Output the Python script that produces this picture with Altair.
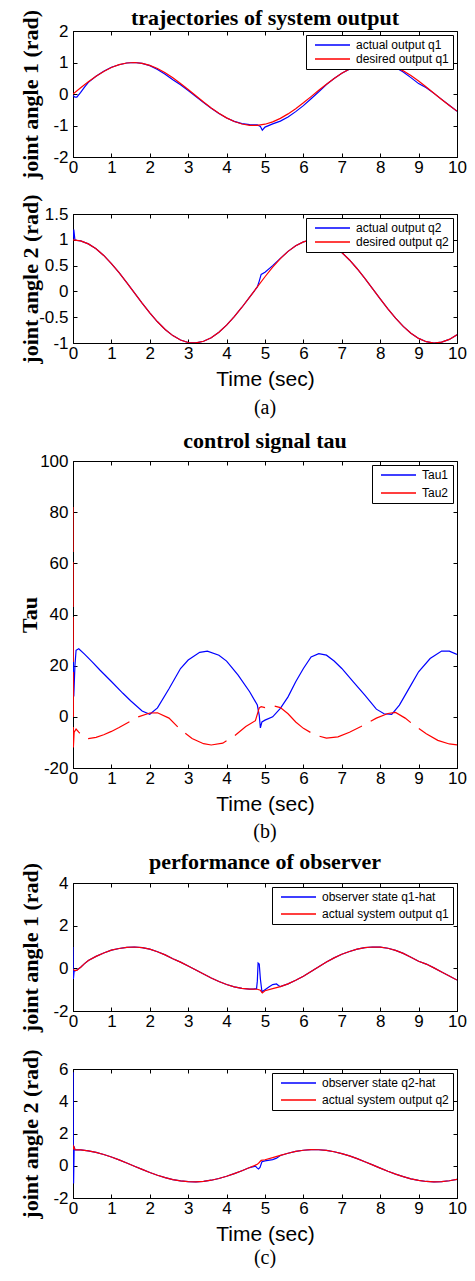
import altair as alt
import pandas as pd

# ---------------- data ----------------
t_grid = [0.0, 0.2, 0.4, 0.6, 0.8, 1.0, 1.2, 1.4, 1.6, 1.8, 2.0, 2.2, 2.4, 2.6, 2.8,
          3.0, 3.2, 3.4, 3.6, 3.8, 4.0, 4.2, 4.4, 4.6, 4.8, 5.0, 5.2, 5.4, 5.6, 5.8,
          6.0, 6.2, 6.4, 6.6, 6.8, 7.0, 7.2, 7.4, 7.6, 7.8, 8.0, 8.2, 8.4, 8.6, 8.8,
          9.0, 9.2, 9.4, 9.6, 9.8, 10.0]

q1_desired = [0.0, 0.199, 0.389, 0.565, 0.717, 0.841, 0.932, 0.985, 1.0, 0.974, 0.909,
              0.808, 0.675, 0.516, 0.335, 0.141, -0.058, -0.256, -0.443, -0.612, -0.757,
              -0.872, -0.952, -0.994, -0.996, -0.959, -0.883, -0.773, -0.631, -0.465,
              -0.279, -0.083, 0.117, 0.312, 0.494, 0.657, 0.794, 0.899, 0.968, 0.999,
              0.989, 0.941, 0.855, 0.735, 0.585, 0.412, 0.223, 0.025, -0.174, -0.366, -0.544]

q2_desired = [1.0, 0.98, 0.921, 0.825, 0.697, 0.54, 0.362, 0.17, -0.029, -0.227, -0.416,
              -0.589, -0.737, -0.857, -0.942, -0.99, -0.998, -0.967, -0.897, -0.791,
              -0.654, -0.49, -0.307, -0.112, 0.087, 0.284, 0.469, 0.635, 0.776, 0.886,
              0.96, 0.997, 0.993, 0.951, 0.869, 0.754, 0.609, 0.439, 0.252, 0.054,
              -0.146, -0.339, -0.519, -0.677, -0.811, -0.911, -0.975, -1.0, -0.984, -0.93, -0.839]

q1_actual_t = [0.0, 0.05, 0.1, 0.2, 0.3, 0.4, 0.6, 0.8, 1.0, 1.2, 1.4, 1.6, 1.8, 2.0, 2.2,
               2.4, 2.6, 2.8, 3.0, 3.2, 3.4, 3.6, 3.8, 4.0, 4.2, 4.4, 4.6, 4.8, 4.88, 4.93,
               5.0, 5.2, 5.4, 5.6, 5.8, 6.0, 6.2, 6.4, 6.6, 6.8, 7.0, 7.2, 7.4, 7.6, 7.8,
               8.0, 8.2, 8.4, 8.6, 8.8, 9.0, 9.2, 9.4, 9.6, 9.8, 10.0]
q1_actual = [-0.05, -0.1, -0.1, 0.05, 0.22, 0.37, 0.56, 0.72, 0.85, 0.93, 0.985, 1.0, 0.97,
             0.9, 0.78, 0.63, 0.45, 0.29, 0.11, -0.08, -0.27, -0.45, -0.62, -0.76, -0.87,
             -0.94, -0.97, -0.98, -1.03, -1.15, -1.05, -0.95, -0.86, -0.73, -0.56, -0.37,
             -0.15, 0.07, 0.3, 0.49, 0.66, 0.79, 0.9, 0.97, 1.0, 0.99, 0.94, 0.84, 0.7,
             0.52, 0.33, 0.2, 0.02, -0.17, -0.36, -0.55]

q2_actual_t = [0.0, 0.02, 0.05, 0.1, 0.2, 0.4, 0.6, 0.8, 1.0, 1.2, 1.4, 1.6, 1.8, 2.0, 2.2,
               2.4, 2.6, 2.8, 3.0, 3.2, 3.4, 3.6, 3.8, 4.0, 4.2, 4.4, 4.6, 4.8, 4.85, 4.9,
               5.0, 5.2, 5.4, 5.6, 5.8, 6.0, 6.2, 6.4, 6.6, 6.8, 7.0, 7.2, 7.4, 7.6, 7.8,
               8.0, 8.2, 8.4, 8.6, 8.8, 9.0, 9.2, 9.4, 9.6, 9.8, 10.0]
q2_actual = [1.0, 1.2, 1.0, 0.99, 0.98, 0.921, 0.825, 0.697, 0.54, 0.362, 0.17, -0.029,
             -0.227, -0.416, -0.589, -0.737, -0.857, -0.942, -0.99, -0.998, -0.967, -0.897,
             -0.791, -0.654, -0.49, -0.307, -0.112, 0.087, 0.2, 0.33, 0.37, 0.5, 0.64,
             0.776, 0.886, 0.96, 0.997, 0.993, 0.951, 0.869, 0.754, 0.609, 0.439, 0.252,
             0.054, -0.146, -0.339, -0.519, -0.677, -0.811, -0.911, -0.975, -1.0, -0.984,
             -0.93, -0.839]

tau1_t = [0.0, 0.02, 0.05, 0.08, 0.15, 0.3, 0.5, 0.7, 1.0, 1.3, 1.5, 1.8, 2.0, 2.2, 2.5,
          2.8, 3.0, 3.3, 3.5, 3.8, 4.0, 4.3, 4.6, 4.8, 4.85, 4.88, 4.92, 5.0, 5.2, 5.4,
          5.6, 5.8, 6.0, 6.2, 6.4, 6.6, 6.8, 7.0, 7.3, 7.6, 7.9, 8.1, 8.3, 8.5, 8.8, 9.0,
          9.3, 9.6, 9.8, 10.0]
tau1 = [30, 8, 20, 26, 26.6, 24.5, 21.5, 18.3, 13.8, 9.2, 6.3, 2.3, 1.0, 3.5, 11, 18.9,
        22.2, 25.2, 25.7, 24.1, 21.8, 16.3, 9.8, 4.6, 0.6, -4.3, -2, -1.3, 0, 3.3, 7.8,
        13.7, 18.9, 23.4, 24.7, 24.1, 21.8, 18.9, 13.7, 8.5, 3, 1.2, 1, 4.6, 12.4, 17.6,
        22.8, 25.7, 25.7, 24.4]

tau2_t = [0.0, 0.01, 0.03, 0.08, 0.15, 0.25, 0.4, 0.6, 0.8, 1.0, 1.2, 1.4, 1.7, 2.0, 2.2,
          2.5, 2.8, 3.1, 3.4, 3.6, 3.9, 4.2, 4.5, 4.75, 4.85, 4.9, 5.0, 5.2, 5.4, 5.6,
          5.8, 6.0, 6.3, 6.6, 6.9, 7.2, 7.5, 7.9, 8.2, 8.4, 8.65, 8.9, 9.2, 9.5, 9.8, 10.0]
tau2 = [82, -12, -6, -4.8, -6, -7.5, -8.5, -8, -7, -5.7, -4.2, -2.5, 0, 1.5, 1.6, -0.5,
        -5, -8.5, -10.5, -11, -10.3, -7.5, -3.8, -1.5, 3.5, 4, 3.6, 4.4, 3.6, 1.2, -2,
        -4.5, -7.1, -8.3, -7.8, -6, -3.8, -0.5, 1.3, 1.7, -0.5, -3.5, -6.6, -9.2, -10.6, -11]

# observer q1-hat: start transient, the glitch near 4.8 s, otherwise on the actual q1
q1hat_head_t = [0.0, 0.01, 0.03, 0.06, 0.1, 0.2]
q1hat_head = [1.0, -0.5, -0.1, -0.12, -0.08, 0.05]
q1hat_mid_t = [4.7, 4.78, 4.8, 4.82, 4.85, 4.88, 4.92, 5.0, 5.1, 5.2, 5.3, 5.35]
q1hat_mid = [-0.97, -0.95, -0.6, 0.25, 0.2, -0.5, -1.1, -1.0, -0.88, -0.76, -0.73, -0.8]

q2hat_head_t = [0.0, 0.004, 0.008, 0.015, 0.03, 0.05]
q2hat_head = [1.0, 5.8, 1.6, -1.1, 1.2, 1.0]
q2hat_mid_t = [4.75, 4.8, 4.83, 4.87, 4.92, 5.0, 5.2, 5.3]
q2hat_mid = [-0.02, -0.15, -0.2, -0.1, 0.25, 0.3, 0.38, 0.47]

x_ticks = [0, 1, 2, 3, 4, 5, 6, 7, 8, 9, 10]
BLUE = "#0000FF"
RED = "#FF0000"
W = 384
SERIF = "Liberation Serif"
SANS = "Liberation Sans"


def compose(head_t, head_v, mid_t, mid_v, base_t, base_v):
    t_out, v_out = list(head_t), list(head_v)
    for a, b in zip(base_t, base_v):
        if head_t[-1] < a < mid_t[0]:
            t_out.append(a); v_out.append(b)
    t_out += mid_t; v_out += mid_v
    for a, b in zip(base_t, base_v):
        if a > mid_t[-1]:
            t_out.append(a); v_out.append(b)
    return t_out, v_out


q1hat_t, q1hat = compose(q1hat_head_t, q1hat_head, q1hat_mid_t, q1hat_mid, q1_actual_t, q1_actual)
q2hat_t, q2hat = compose(q2hat_head_t, q2hat_head, q2hat_mid_t, q2hat_mid, q2_actual_t, q2_actual)


def panel(series, H, ydomain, yticks, ytitle, xtitle="", row_pad=2, ytitle_x=-36):
    names = [s[0] for s in series]
    colors = [s[3] for s in series]
    xaxis = alt.Axis(values=x_ticks, labelFlush=False, labelOverlap=False,
                     labelFont=SANS, labelFontSize=17, labelColor="black",
                     labelPadding=2, labelExpr="datum.value + ''", ticks=False,
                     grid=True, gridColor="black", gridOpacity=1, gridWidth=1,
                     gridDash=[4, H - 8, 4, 3000], domainColor="black",
                     title=xtitle, titleFont=SANS, titleFontSize=21,
                     titleFontWeight="normal", titleColor="black", titleX=W / 2,
                     titleY=42, titleBaseline="alphabetic", titleAlign="center")
    yaxis = alt.Axis(values=yticks, labelFont=SANS, labelFontSize=17,
                     labelColor="black", labelPadding=5, labelExpr="datum.value + ''",
                     ticks=False, grid=True, gridColor="black", gridOpacity=1, gridWidth=1,
                     gridDash=[4, W - 8, 4, 3000], domainColor="black",
                     title=ytitle, titleFont=SERIF, titleFontWeight="bold",
                     titleFontSize=22, titleColor="black", titleX=ytitle_x, titleY=H / 2,
                     titleAngle=270, titleAlign="center", titleBaseline="alphabetic")
    legend = alt.Legend(title=None, orient="top-right", offset=4, strokeColor="black",
                        fillColor="white", padding=4, labelFont=SANS,
                        labelFontSize=12, labelColor="black", symbolType="stroke",
                        symbolSize=1225, symbolStrokeWidth=1.3, rowPadding=row_pad,
                        clipHeight=12, symbolOffset=4, labelOffset=5, symbolDash=[1, 0])
    layers = []
    for name, tt, vv, color, dash in series:
        df = pd.DataFrame({"t": tt, "v": vv, "s": name})
        mk = dict(strokeWidth=1.2, clip=True)
        if dash:
            mk["strokeDash"] = dash
        layers.append(
            alt.Chart(df).mark_line(**mk).encode(
                x=alt.X("t:Q", scale=alt.Scale(domain=[0, 10], nice=False, zero=False), axis=xaxis),
                y=alt.Y("v:Q", scale=alt.Scale(domain=ydomain, nice=False, zero=False), axis=yaxis),
                color=alt.Color("s:N", scale=alt.Scale(domain=names, range=colors), legend=legend),
                order=alt.Order("t:Q"),
            )
        )
    return alt.layer(*layers).properties(width=W, height=H)


def title_text(s, y):
    return (s, y, SERIF, 22, "bold", "alphabetic")


def caption_text(s, y):
    return (s, y, SERIF, 20, "normal", "middle")


def spacer(h, texts=()):
    layers = []
    for s, y, font, size, weight, base in (texts or [("", h / 2, SANS, 10, "normal", "middle")]):
        layers.append(
            alt.Chart(pd.DataFrame({"c": [s]})).mark_text(
                font=font, fontSize=size, fontWeight=weight, baseline=base,
                align="center", color="black"
            ).encode(text="c:N", x=alt.value(W / 2), y=alt.value(y))
        )
    return alt.layer(*layers).properties(width=W, height=h,
                                         view=alt.ViewBackground(strokeOpacity=0))


p1 = panel([("actual output q1", q1_actual_t, q1_actual, BLUE, None),
            ("desired output q1", t_grid, q1_desired, RED, None)],
           126, [-2, 2], [-2, -1, 0, 1, 2], "joint angle 1 (rad)")
p2 = panel([("actual output q2", q2_actual_t, q2_actual, BLUE, None),
            ("desired output q2", t_grid, q2_desired, RED, None)],
           129, [-1, 1.5], [-1, -0.5, 0, 0.5, 1, 1.5], "joint angle 2 (rad)", xtitle="Time (sec)")
p3 = panel([("Tau1", tau1_t, tau1, BLUE, None),
            ("Tau2", tau2_t, tau2, RED, [45, 10])],
           307, [-20, 100], [-20, 0, 20, 40, 60, 80, 100], "Tau", xtitle="Time (sec)",
           row_pad=6, ytitle_x=-37)
p4 = panel([("observer state q1-hat", q1hat_t, q1hat, BLUE, None),
            ("actual system output q1", q1_actual_t, q1_actual, RED, None)],
           128, [-2, 4], [-2, 0, 2, 4], "joint angle 1 (rad)", row_pad=5)
p5 = panel([("observer state q2-hat", q2hat_t, q2hat, BLUE, None),
            ("actual system output q2", q2_actual_t, q2_actual, RED, None)],
           129, [-2, 6], [-2, 0, 2, 4, 6], "joint angle 2 (rad)", xtitle="Time (sec)", row_pad=5)

chart = alt.vconcat(
    spacer(25, [title_text("trajectories of system output", 19)]),
    p1,
    spacer(57),
    p2,
    spacer(118, [caption_text("(a)", 65), title_text("control signal tau", 105)]),
    p3,
    spacer(115, [caption_text("(b)", 64), title_text("performance of observer", 101)]),
    p4,
    spacer(58),
    p5,
    spacer(70, [caption_text("(c)", 60)]),
    spacing=0, bounds="flush",
).resolve_scale(color="independent").properties(
    padding={"left": 9, "top": -2, "right": 0, "bottom": 0}
).configure_view(stroke="black", strokeWidth=1)

chart.save("out.html", embed_options={"renderer": "svg", "actions": False})
